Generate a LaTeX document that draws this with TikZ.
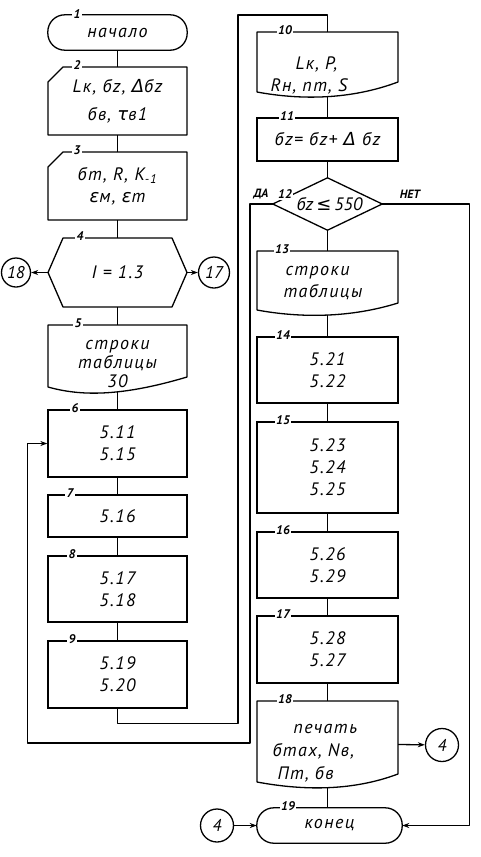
\documentclass[tikz,border=0pt]{standalone}
\usepackage{fontspec}
\setmainfont{PT Sans}
\newfontfamily\dvfont{DejaVu Sans}
\usetikzlibrary{arrows.meta}
\newcommand{\gk}[1]{{\dvfont\itshape #1}}
\newcommand{\lowr}[2]{\raisebox{-#1}[\height][\depth]{#2}}
\begin{document}
\begin{tikzpicture}[x=1pt,y=-1pt,
  ln/.style={line width=1.3pt, line join=round},
  arr/.style={ln, -{Stealth[length=7pt,width=5pt]}},
  txt/.style={font=\fontsize{18}{22}\selectfont\itshape\addfontfeature{LetterSpace=8}, align=center, inner sep=0pt},
  area/.style={txt, minimum width=#1},
  box/.style={txt, draw, line width=1.3pt, minimum width=#1},
  num/.style={font=\fontsize{12.5}{12.5}\selectfont\bfseries\itshape, fill=white, inner sep=1.5pt},
  lbl/.style={font=\fontsize{12}{12}\selectfont\bfseries\itshape, inner sep=0pt},
  circ/.style={draw, line width=1.3pt, circle, inner sep=0pt, font=\fontsize{17}{17}\selectfont\itshape}
]
\useasboundingbox (0,0) rectangle (481,857);

% ---------- left column ----------
\node[area=139pt, minimum height=35pt] (b1) at (117.5,32.5) {начало};
\draw[ln, rounded corners=17pt] (b1.north west) rectangle (b1.south east);

\node[area=139pt, minimum height=68pt] (b2) at (117.5,101) {Lк, бz, \gk{Δ}бz\\[6pt]бв, \gk{τ}в1};
\draw[ln] (48,82) -- (63,67) -- (187,67) -- (187,135) -- (48,135) -- cycle;

\node[area=139pt, minimum height=68pt] (b3) at (117.5,186) {бт, R, K\textsubscript{-1}\\\gk{ε}м, \gk{ε}т};
\draw[ln] (48,167) -- (63,152) -- (187,152) -- (187,220) -- (48,220) -- cycle;

\node[area=139pt, minimum height=69pt] (b4) at (117.5,272.5) {I = 1.3};
\draw[ln] (48,272.5) -- (63,238) -- (172,238) -- (187,272.5) -- (172,307) -- (63,307) -- cycle;

\node[circ, minimum size=29pt] (c18) at (16,272.5) {18};
\node[circ, minimum size=31pt] (c17) at (214,272.5) {17};

\node[area=139pt, minimum height=67pt, font=\fontsize{18}{19}\selectfont\itshape\addfontfeature{LetterSpace=8}] (b5) at (117.5,358.5) {\lowr{6pt}{\begin{tabular}{@{}c@{}}строки\\таблицы\\30\end{tabular}}};
\draw[ln] (48,325) -- (187,325) -- (187,377) .. controls (120,397) and (80,396) .. (48,387) -- cycle;

\node[box=139pt, minimum height=67pt] (b6) at (117.5,443.5) {5.11\\5.15};
\node[box=139pt, minimum height=42pt] (b7) at (117.5,516) {5.16};
\node[box=139pt, minimum height=66pt] (b8) at (117.5,589) {5.17\\5.18};
\node[box=139pt, minimum height=67pt] (b9) at (117.5,674.5) {5.19\\5.20};

% ---------- right column ----------
\node[area=141pt, minimum height=64pt, text width=114pt, align=left] (b10) at (327.5,64) {\lowr{12pt}{\begin{tabular}{@{}l@{}}\hspace*{25pt}Lк, P,\\Rн, nт, S\end{tabular}}};
\draw[ln] (257,32) -- (398,32) -- (398,82) .. controls (350,100) and (300,100) .. (257,92) -- cycle;

\node[box=141pt, minimum height=43pt] (b11) at (327.5,139.5) {бz= бz+ \gk{Δ} бz};

\node[area=109pt, minimum height=52pt, font=\fontsize{18}{22}\selectfont\itshape] (d12) at (327.5,204) {\hspace*{4pt}бz\,\gk{≤}\,550};
\draw[ln] (d12.north) -- (d12.east) -- (d12.south) -- (d12.west) -- cycle;

\node[area=141pt, minimum height=64pt, text width=88pt, align=left] (b13) at (327.5,283) {\hspace*{2pt}строки\\таблицы};
\draw[ln] (257,251) -- (398,251) -- (398,303) .. controls (350,318) and (300,318) .. (257,310) -- cycle;

\node[box=141pt, minimum height=66pt] (b14) at (327.5,370) {5.21\\5.22};
\node[box=141pt, minimum height=91pt] (b15) at (327.5,467.5) {5.23\\5.24\\5.25};
\node[box=141pt, minimum height=66pt] (b16) at (327.5,565) {5.26\\5.29};
\node[box=141pt, minimum height=67pt] (b17) at (327.5,649.5) {5.28\\5.27};

\node[area=141pt, minimum height=87pt, text width=110pt, align=left, font=\fontsize{18}{23}\selectfont\itshape\addfontfeature{LetterSpace=8}] (b18) at (327.5,744.5) {\lowr{7pt}{\begin{tabular}{@{}l@{}}\hspace*{21pt}печать\\бmax, Nв,\\\hspace*{5pt}Пт, бв\end{tabular}}};
\draw[ln] (257,701) -- (398,701) -- (398,774) .. controls (350,792) and (300,790) .. (257,782) -- cycle;

\node[circ, minimum size=33pt] (c4a) at (442,745) {4};

\node[area=145pt, minimum height=35pt] (b19) at (329.5,825.5) {конец};
\draw[ln, rounded corners=17pt] (b19.north west) rectangle (b19.south east);

\node[circ, minimum size=33pt] (c4b) at (217,825.5) {4};

% ---------- connectors ----------
\draw[ln] (b1.south) -- (b2.north);
\draw[ln] (b2.south) -- (b3.north);
\draw[ln] (b3.south) -- (b4.north);
\draw[ln] (b4.south) -- (b5.north);
\draw[ln] (b5.south) -- (b6.north);
\draw[ln] (b6.south) -- (b7.north);
\draw[ln] (b7.south) -- (b8.north);
\draw[ln] (b8.south) -- (b9.north);
\draw[arr] (b4.west) -- (c18);
\draw[arr] (b4.east) -- (c17);
\draw[ln] (b9.south) -- ++(0,15) -| (238,15) -| (b10.north);

\draw[ln] (b10.south) -- (b11.north);
\draw[ln] (b11.south) -- (d12.north);
\draw[ln] (d12.south) -- (b13.north);
\draw[ln] (b13.south) -- (b14.north);
\draw[ln] (b14.south) -- (b15.north);
\draw[ln] (b15.south) -- (b16.north);
\draw[ln] (b16.south) -- (b17.north);
\draw[ln] (b17.south) -- (b18.north);
\draw[ln] (b18.south) -- (b18.south |- b19.north);
\draw[arr] (b18.east) -- (c4a);
\draw[arr] (c4b) -- (b19.west);

\draw[arr] (d12.west) -| (250,743) -| ([xshift=-20pt]b6.west) -- (b6.west);
\draw[arr] (d12.east) -| ([xshift=67pt]b19.east) -- (b19.east);

\node[lbl] (da) at (261,194) {ДА};
\node[lbl] (net) at (410,194) {НЕТ};

% ---------- block numbers ----------
\node[num] (n1) at (77,14) {1};
\node[num] (n2) at (77,65) {2};
\node[num] (n3) at (77,150) {3};
\node[num] (n4) at (80,236) {4};
\node[num] (n5) at (78,323) {5};
\node[num] (n6) at (75,408) {6};
\node[num] (n7) at (70,493) {7};
\node[num] (n8) at (72,554) {8};
\node[num] (n9) at (72,639) {9};
\node[num] (n10) at (285,30) {10};
\node[num] (n11) at (287,116) {11};
\node[num] (n12) at (285,194) {12};
\node[num] (n13) at (282,249) {13};
\node[num] (n14) at (283,335) {14};
\node[num] (n15) at (283,420) {15};
\node[num] (n16) at (283,530) {16};
\node[num] (n17) at (283,614) {17};
\node[num] (n18) at (285,699) {18};
\node[num] (n19) at (288,806) {19};
\end{tikzpicture}
\end{document}
